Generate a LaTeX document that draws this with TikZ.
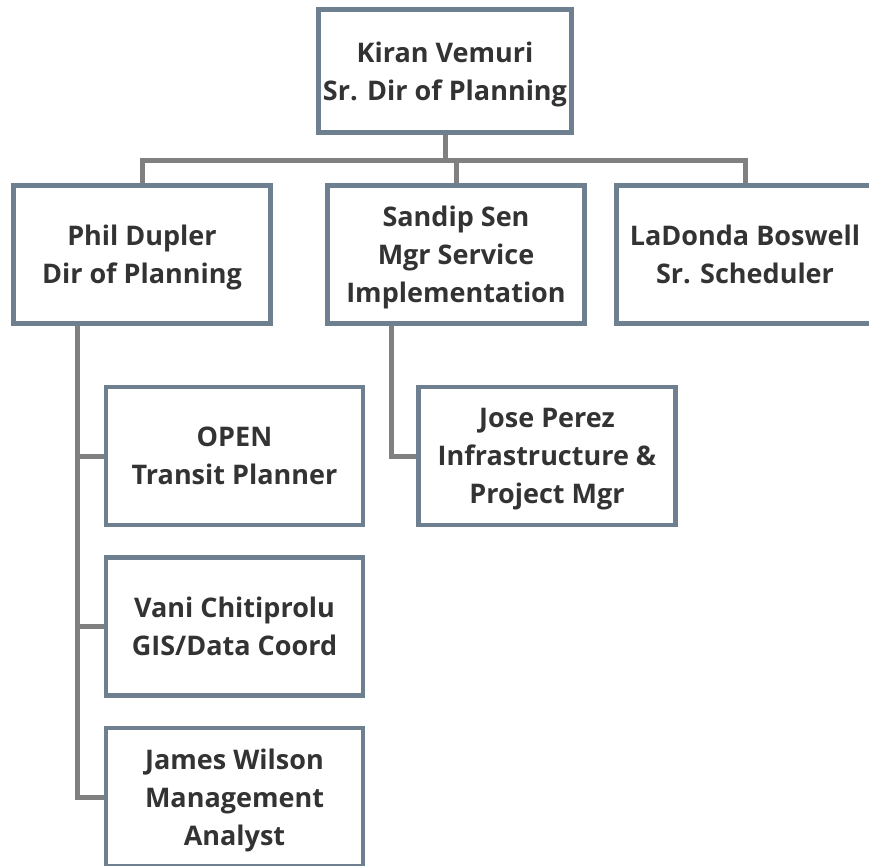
\documentclass[tikz,border=0pt]{standalone}
\usepackage{fontspec}
\setmainfont{Open Sans}
\usepackage{tikz}
\usetikzlibrary{positioning,calc}

\definecolor{boxline}{RGB}{110,128,143}
\definecolor{linkgray}{RGB}{128,128,128}
\definecolor{textdark}{RGB}{51,51,51}

\begin{document}
\begin{tikzpicture}[x=1pt, y=-1pt,
    person/.style={draw=boxline, line width=4.5pt, fill=white,
      minimum width=257pt, minimum height=138pt, align=center,
      text=textdark, inner sep=0pt, text depth=-5pt,
      font=\fontsize{27pt}{38pt}\selectfont\bfseries},
    link/.style={draw=linkgray, line width=5pt} ]

    \useasboundingbox (0,0) rectangle (869,865);

    % Top level
    \node[person, minimum width=253pt, minimum height=123pt] (kiran) at
    (445,71) {Kiran Vemuri\\Sr. Dir of Planning};

    % Second level
    \node[person] (phil) at (142,254.5) {Phil Dupler\\Dir of Planning};
    \node[person] (sandip) at (456,254.5) {Sandip Sen\\Mgr Service\\Implementation};
    \node[person] (ladonda) at (745,254.5) {LaDonda Boswell\\Sr. Scheduler};

    % Third level
    \node[person] (open) at (234.5,456) {OPEN\\Transit Planner};
    \node[person] (vani) at (234.5,626.5) {Vani Chitiprolu\\GIS/Data Coord};
    \node[person] (james) at (234.5,797) {James Wilson\\Management\\Analyst};
    \node[person] (jose) at (547,456) {Jose Perez\\Infrastructure \&\\Project Mgr};

    % Connectors
    \coordinate (bar) at (445,160);
    \draw[link] (kiran.south) -- (bar);
    \draw[link] (phil.north) |- (bar) -| (ladonda.north);
    \draw[link] (sandip.north) -- (sandip.north |- bar);
    \draw[link] ([xshift=66pt]phil.south west) |- (james.west);
    \draw[link] ([xshift=66pt]phil.south west) |- (open.west);
    \draw[link] ([xshift=66pt]phil.south west) |- (vani.west);
    \draw[link] ([xshift=66pt]sandip.south west) |- (jose.west);

\end{tikzpicture}
\end{document}
